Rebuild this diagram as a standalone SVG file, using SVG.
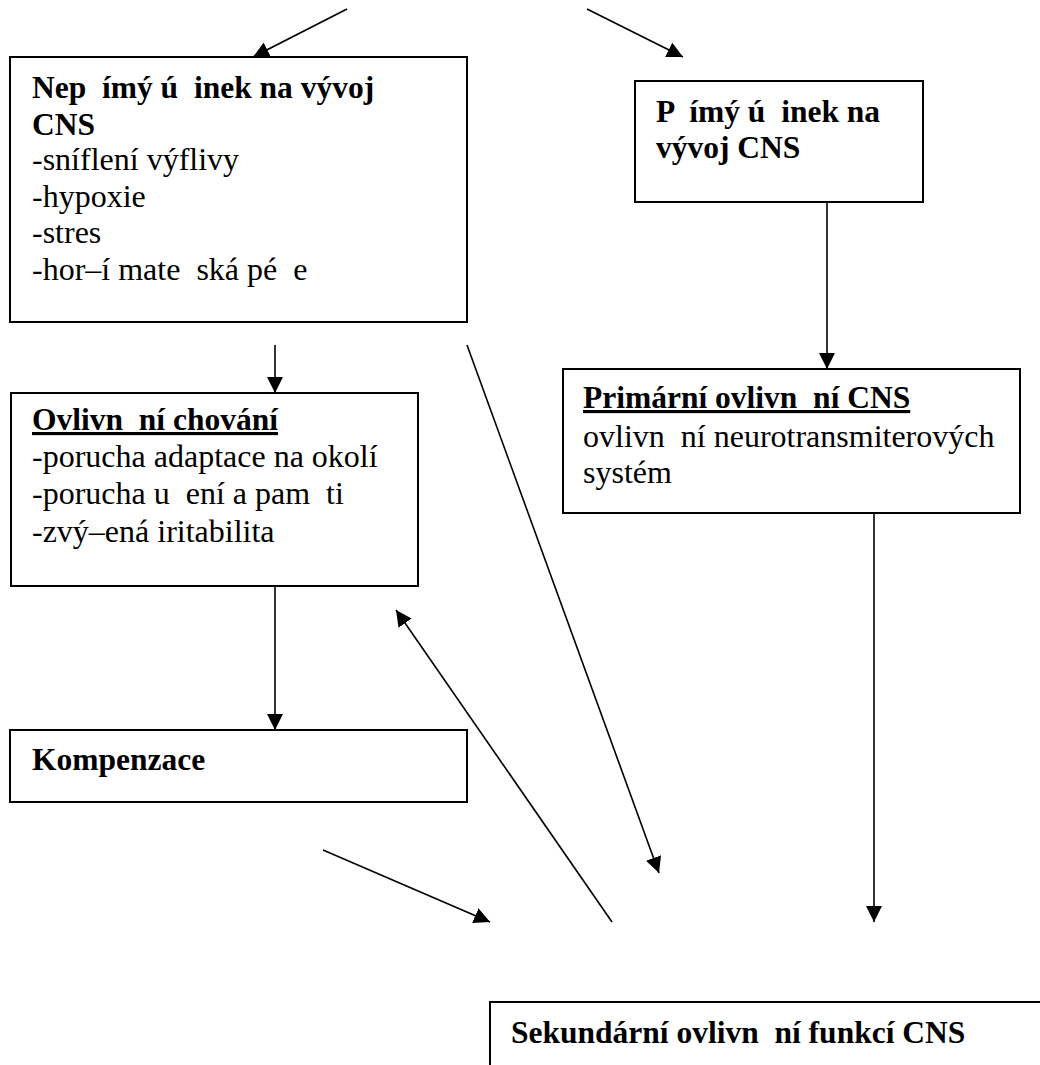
<svg xmlns="http://www.w3.org/2000/svg" width="1040" height="1065" viewBox="0 0 1040 1065">
<style>
  .box { fill: #fff; stroke: #000; stroke-width: 2; }
  text { font-family: "Liberation Serif", "DejaVu Serif", serif; font-size: 32px; font-weight: normal; font-style: normal; fill: #000; white-space: pre; }
  .b { font-weight: bold; font-size: 31.5px; }
  .u { text-decoration: underline; }
  .con { stroke: #000; stroke-width: 1.6; fill: none; marker-end: url(#arr); }
</style>
<defs>
  <marker id="arr" markerUnits="userSpaceOnUse" markerWidth="16" markerHeight="16" viewBox="0 0 16 16" refX="16" refY="8" orient="auto">
    <path d="M0,0 L16,8 L0,16 z" fill="#000"/>
  </marker>
</defs>
<rect width="1040" height="1065" fill="#fff"/>

<g id="connectors">
  <line class="con" x1="347" y1="9" x2="253" y2="57"/>
  <line class="con" x1="587" y1="9" x2="683" y2="57"/>
  <line class="con" x1="827" y1="202" x2="827" y2="369"/>
  <line class="con" x1="275" y1="345" x2="275" y2="393"/>
  <line class="con" x1="275" y1="586" x2="275" y2="730"/>
  <line class="con" x1="874" y1="513" x2="874" y2="922"/>
  <line class="con" x1="467" y1="345" x2="659" y2="873"/>
  <line class="con" x1="612" y1="922" x2="396" y2="610"/>
  <line class="con" x1="323" y1="850" x2="490" y2="922"/>
</g>

<g id="nepriamy">
  <rect class="box" x="10" y="57" width="457" height="265"/>
  <text class="b" x="32" y="98">Nep  ímý ú  inek na vývoj</text>
  <text class="b" x="32" y="135">CNS</text>
  <text x="32" y="170">-sníflení výflivy</text>
  <text x="32" y="207">-hypoxie</text>
  <text x="32" y="243">-stres</text>
  <text x="32" y="280">-hor–í mate  ská pé  e</text>
</g>

<g id="primy">
  <rect class="box" x="635" y="81" width="288" height="121"/>
  <text class="b" x="656" y="122">P  ímý ú  inek na</text>
  <text class="b" x="656" y="158">vývoj CNS</text>
</g>

<g id="primarni">
  <rect class="box" x="563" y="369" width="457" height="144"/>
  <text class="b u" x="583" y="408">Primární ovlivn  ní CNS</text>
  <text x="583" y="447">ovlivn  ní neurotransmiterových</text>
  <text x="583" y="483">systém</text>
</g>

<g id="chovani">
  <rect class="box" x="11" y="393" width="407" height="193"/>
  <text class="b u" x="32" y="430">Ovlivn  ní chování</text>
  <text x="32" y="467">-porucha adaptace na okolí</text>
  <text x="32" y="504">-porucha u  ení a pam  ti</text>
  <text x="32" y="542">-zvý–ená iritabilita</text>
</g>

<g id="kompenzace">
  <rect class="box" x="10" y="730" width="457" height="72"/>
  <text class="b" x="32" y="770">Kompenzace</text>
</g>

<g id="sekundarni">
  <rect class="box" x="490" y="1002" width="580" height="120"/>
  <text class="b" x="511" y="1043">Sekundární ovlivn  ní funkcí CNS</text>
</g>
</svg>
